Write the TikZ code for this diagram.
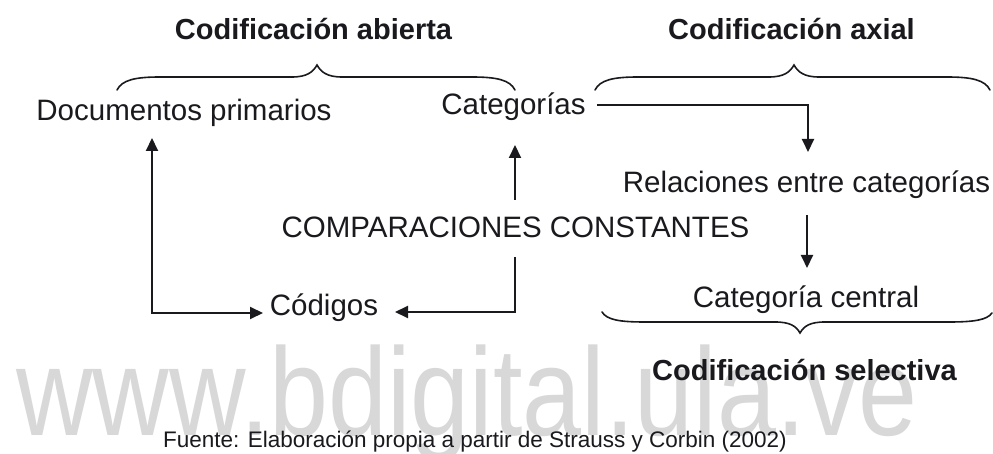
\documentclass[tikz,border=0pt]{standalone}
\usepackage{fontspec}
\setmainfont{Liberation Sans}
\usetikzlibrary{arrows.meta}
\definecolor{wmgray}{RGB}{216,216,216}
\definecolor{ink}{RGB}{25,25,30}
\tikzset{
  lbl/.style={anchor=base, inner sep=0pt, text=ink, font=\fontsize{29.5}{32}\selectfont},
  ttl/.style={anchor=base, inner sep=0pt, text=ink, font=\fontsize{29}{32}\selectfont\bfseries},
  src/.style={anchor=base, inner sep=0pt, text=ink, font=\fontsize{22.5}{25}\selectfont},
  wm/.style={anchor=base, inner sep=0pt, text=wmgray, font=\fontsize{106}{110}\selectfont},
  arr/.style={-{Triangle[length=13pt,width=12pt]}, line width=2pt, draw=ink},
  arrtwo/.style={{Triangle[length=13pt,width=12pt]}-{Triangle[length=13pt,width=12pt]}, line width=2pt, draw=ink},
  brace/.style={line width=1.6pt, draw=ink, line cap=round}
}
\begin{document}
\begin{tikzpicture}[x=1pt,y=-1pt]
\useasboundingbox (0,0) rectangle (993,454);
\fill[white] (0,0) rectangle (993,454);
% watermark
\node[wm] (wmark) at (467,435) {\scalebox{1}[1.18]{www.bdigital.ula.ve}};
% titles
\node[ttl] (abierta) at (313.5,40) {Codificación abierta};
\node[ttl] (axial) at (791.5,40) {Codificación axial};
\node[ttl] (selectiva) at (804.5,380) {Codificación selectiva};
% labels
\node[lbl] (doc) at (184,121) {Documentos primarios};
\node[lbl] (cat) at (513.5,115) {Categorías};
\node[lbl] (rel) at (806.5,193) {Relaciones entre categorías};
\node[lbl] (comp) at (515.5,238) {COMPARACIONES CONSTANTES};
\node[lbl] (cod) at (324,316) {Códigos};
\node[lbl] (central) at (806,308) {Categoría central};
\node[src] (fuente) at (475,447) {Fuente: Elaboración propia a partir de Strauss y Corbin (2002)};
% braces
\draw[brace] (117,90) .. controls (122,80) and (135,77) .. (160,77) -- (292,77)
  .. controls (307,77) and (313,72) .. (317,65) .. controls (321,72) and (327,77) .. (342,77)
  -- (472,77) .. controls (497,77) and (510,80) .. (515,90);
\draw[brace] (595,90) .. controls (600,80) and (613,77) .. (638,77) -- (769,77)
  .. controls (784,77) and (790,72) .. (794,65) .. controls (798,72) and (804,77) .. (819,77)
  -- (947,77) .. controls (972,77) and (985,80) .. (990,90);
\draw[brace] (602,312) .. controls (607,320) and (620,322) .. (645,322) -- (775,322)
  .. controls (790,322) and (796,326) .. (800,333) .. controls (804,326) and (810,322) .. (825,322)
  -- (949,322) .. controls (974,322) and (987,320) .. (992,313);
% connector end points
\coordinate (docIn) at (152,138);
\coordinate (codL) at (263,313);
\coordinate (compUp) at (515,200);
\coordinate (catIn) at (515,145);
\coordinate (compDn) at (515,257);
\coordinate (codR) at (395,312);
\coordinate (catOut) at (597,105);
\coordinate (relIn) at (808,152);
\coordinate (relOut) at (807,215);
\coordinate (centIn) at (807,268);
% connectors
\draw[arrtwo] (docIn) |- (codL);
\draw[arr] (compUp) -- (catIn);
\draw[arr] (compDn) |- (codR);
\draw[arr] (catOut) -| (relIn);
\draw[arr] (relOut) -- (centIn);
\end{tikzpicture}
\end{document}
